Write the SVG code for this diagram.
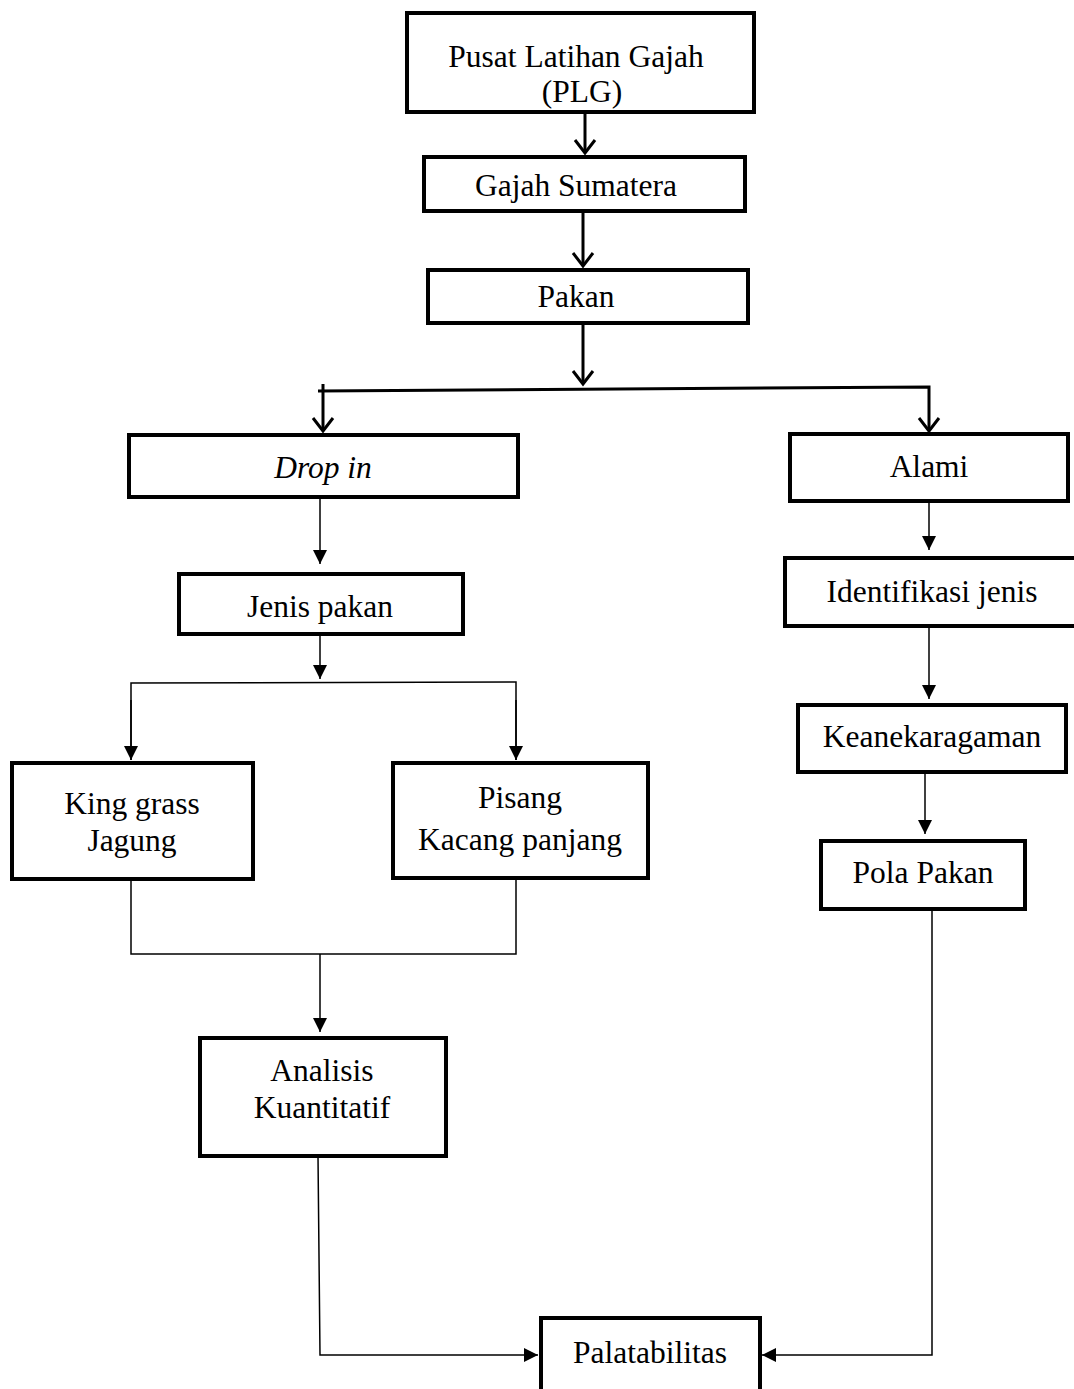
<svg xmlns="http://www.w3.org/2000/svg" width="1074" height="1389" viewBox="0 0 1074 1389">
<style>
.box{fill:#fff;stroke:#000;stroke-width:4}
.t{font-family:"Liberation Serif","Times New Roman",serif;font-size:31.5px;fill:#000;text-anchor:middle}
.thick{stroke:#000;stroke-width:3;fill:none}
.thin{stroke:#000;stroke-width:1.5;fill:none}
</style>
<defs>
<marker id="v" markerUnits="userSpaceOnUse" markerWidth="18" markerHeight="24" viewBox="0 0 18 24" refX="15" refY="12" orient="auto">
<path d="M2,2 L15,12 L2,22" fill="none" stroke="#000" stroke-width="3"/>
</marker>
<marker id="tri" markerUnits="userSpaceOnUse" markerWidth="14" markerHeight="14" viewBox="0 0 14 14" refX="14" refY="7" orient="auto">
<path d="M0,0 L14,7 L0,14 Z" fill="#000"/>
</marker>
</defs>
<rect width="1074" height="1389" fill="#fff"/>
<g id="connectors">
<line class="thick" x1="585" y1="112" x2="585" y2="153" marker-end="url(#v)"/>
<line class="thick" x1="583" y1="211" x2="583" y2="266" marker-end="url(#v)"/>
<line class="thick" x1="583" y1="323" x2="583" y2="384" marker-end="url(#v)"/>
<polyline class="thick" points="318,391 929,387 929,431" marker-end="url(#v)"/>
<line class="thick" x1="323" y1="384" x2="323" y2="431" marker-end="url(#v)"/>
<line class="thin" x1="320" y1="497" x2="320" y2="564" marker-end="url(#tri)"/>
<line class="thin" x1="320" y1="634" x2="320" y2="679" marker-end="url(#tri)"/>
<polyline class="thin" points="131,760 131,683 516,682 516,760" />
<line class="thin" x1="131" y1="700" x2="131" y2="760" marker-end="url(#tri)"/>
<line class="thin" x1="516" y1="700" x2="516" y2="760" marker-end="url(#tri)"/>
<polyline class="thin" points="131,879 131,954 516,954 516,878"/>
<line class="thin" x1="320" y1="954" x2="320" y2="1032" marker-end="url(#tri)"/>
<polyline class="thin" points="318,1156 320,1355 538,1355" marker-end="url(#tri)"/>
<polyline class="thin" points="932,909 932,1355 762,1355" marker-end="url(#tri)"/>
<line class="thin" x1="929" y1="501" x2="929" y2="550" marker-end="url(#tri)"/>
<line class="thin" x1="929" y1="626" x2="929" y2="699" marker-end="url(#tri)"/>
<line class="thin" x1="925" y1="772" x2="925" y2="834" marker-end="url(#tri)"/>
</g>
<g id="plg"><rect class="box" x="407" y="13" width="347" height="99"/><text class="t" x="576" y="67">Pusat Latihan Gajah</text><text class="t" x="582" y="102">(PLG)</text></g>
<g id="gajah"><rect class="box" x="424" y="157" width="321" height="54"/><text class="t" x="576" y="196">Gajah Sumatera</text></g>
<g id="pakan"><rect class="box" x="428" y="270" width="320" height="53"/><text class="t" x="576" y="307">Pakan</text></g>
<g id="dropin"><rect class="box" x="129" y="435" width="389" height="62"/><text class="t" x="323" y="478" font-style="italic">Drop in</text></g>
<g id="jenis"><rect class="box" x="179" y="574" width="284" height="60"/><text class="t" x="320" y="617">Jenis pakan</text></g>
<g id="king"><rect class="box" x="12" y="763" width="241" height="116"/><text class="t" x="132" y="814">King grass</text><text class="t" x="132" y="851">Jagung</text></g>
<g id="pisang"><rect class="box" x="393" y="763" width="255" height="115"/><text class="t" x="520" y="808">Pisang</text><text class="t" x="520" y="850">Kacang panjang</text></g>
<g id="analisis"><rect class="box" x="200" y="1038" width="246" height="118"/><text class="t" x="322" y="1081">Analisis</text><text class="t" x="322" y="1118">Kuantitatif</text></g>
<g id="palat"><rect class="box" x="541" y="1318" width="219" height="80"/><text class="t" x="650" y="1363">Palatabilitas</text></g>
<g id="alami"><rect class="box" x="790" y="434" width="278" height="67"/><text class="t" x="929" y="477">Alami</text></g>
<g id="identifikasi"><rect class="box" x="785" y="558" width="295" height="68"/><text class="t" x="932" y="602">Identifikasi jenis</text></g>
<g id="keaneka"><rect class="box" x="798" y="705" width="268" height="67"/><text class="t" x="932" y="747">Keanekaragaman</text></g>
<g id="pola"><rect class="box" x="821" y="841" width="204" height="68"/><text class="t" x="923" y="883">Pola Pakan</text></g>
</svg>
